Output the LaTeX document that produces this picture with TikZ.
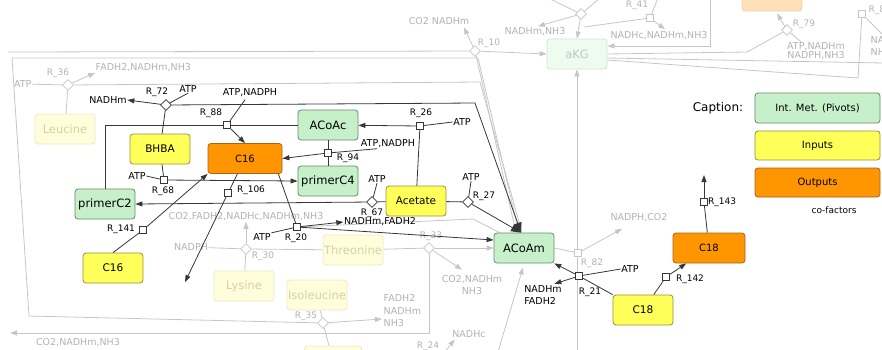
\documentclass[tikz,border=0pt]{standalone}
\usepackage{fontspec}
\setmainfont{DejaVu Sans}
\usetikzlibrary{arrows.meta,shapes.geometric,calc,backgrounds}

\definecolor{pivfill}{RGB}{198,240,202}
\definecolor{pivdraw}{RGB}{100,140,105}
\definecolor{infill}{RGB}{255,255,90}
\definecolor{indraw}{RGB}{150,145,60}
\definecolor{outfill}{RGB}{255,150,0}
\definecolor{outdraw}{RGB}{165,100,30}
\definecolor{darkline}{RGB}{55,55,55}
\definecolor{fadeline}{RGB}{198,198,198}
\definecolor{fadetext}{RGB}{178,178,178}
\definecolor{fadeinfill}{RGB}{255,253,218}
\definecolor{fadeindraw}{RGB}{236,234,198}
\definecolor{fadeintext}{RGB}{214,210,165}
\definecolor{fadepivfill}{RGB}{238,252,240}
\definecolor{fadepivdraw}{RGB}{208,228,212}
\definecolor{fadepivtext}{RGB}{185,205,190}
\definecolor{fadeoutfill}{RGB}{255,224,185}
\definecolor{fadeoutdraw}{RGB}{240,210,170}

\tikzset{
  met/.style={rounded corners=3pt, minimum width=60pt, minimum height=30pt, inner sep=1pt, line width=0.8pt},
  pivot/.style={met, draw=pivdraw, fill=pivfill, font=\fontsize{11.5}{12}\selectfont},
  inmet/.style={met, draw=indraw, fill=infill, font=\fontsize{10.5}{12}\selectfont},
  outmet/.style={met, draw=outdraw, fill=outfill, font=\fontsize{10}{12}\selectfont},
  fadein/.style={met, draw=fadeindraw, fill=fadeinfill, text=fadeintext, font=\fontsize{11.5}{12}\selectfont},
  fadepiv/.style={met, draw=fadepivdraw, fill=fadepivfill, text=fadepivtext, font=\fontsize{11.5}{12}\selectfont},
  fadeout/.style={met, draw=fadeoutdraw, fill=fadeoutfill},
  rsq/.style={draw=darkline, fill=white, line width=0.8pt, minimum size=7.5pt, inner sep=0pt},
  rdia/.style={diamond, draw=darkline, fill=white, line width=0.8pt, minimum size=11pt, inner sep=0pt},
  fsq/.style={rsq, draw=fadeline},
  fdia/.style={rdia, draw=fadeline},
  lbl/.style={font=\fontsize{9.5}{12}\selectfont, inner sep=0.5pt},
  rlab/.style={font=\fontsize{9}{10}\selectfont, inner sep=0.5pt},
  flbl/.style={lbl, text=fadetext},
  frlab/.style={rlab, text=fadetext},
  conn/.style={draw=darkline, line width=0.8pt},
  fconn/.style={draw=fadeline, line width=0.8pt},
  arr/.style={-{Triangle[length=7pt,width=5pt]}},
  bigarr/.style={-{Triangle[length=10pt,width=8pt]}}
}

\begin{document}
\begin{tikzpicture}[x=1pt,y=-1pt]
\useasboundingbox (0,0) rectangle (882,349);
\clip (0,0) rectangle (882,349);

\node[fadepiv] (akg) at (577,54) {aKG};
\node[fadeout] (topout) at (772,-4) {};
\node[fadein] (leucine) at (65,129) {Leucine};
\node[inmet] (bhba) at (160,149) {BHBA};
\node[outmet, minimum width=74pt] (c16o) at (245,158.5) {C16};
\node[pivot] (acoac) at (328,125) {ACoAc};
\node[pivot] (primc4) at (328,181) {primerC4};
\node[pivot] (primc2) at (105,204) {primerC2};
\node[inmet] (c16i) at (113,268) {C16};
\node[inmet] (acetate) at (416,201) {Acetate};
\node[pivot] (acoam) at (524,248) {ACoAm};
\node[fadein] (threonine) at (353,250) {Threonine};
\node[fadein] (isoleucine) at (317,295) {Isoleucine};
\node[fadein] (lysine) at (244,286) {Lysine};
\node[fadein, minimum width=57pt] (botin) at (333,361) {};
\node[inmet] (c18i) at (643,310) {C18};
\node[outmet, minimum width=72pt] (c18o) at (709,248) {C18};

\node[font=\fontsize{12}{14}\selectfont] (capt) at (718,108) {Caption:};
\node[pivot, minimum width=125pt, font=\fontsize{10}{12}\selectfont] (legpiv) at (817.5,108) {Int. Met. (Pivots)};
\node[inmet, minimum width=125pt, minimum height=29pt, font=\fontsize{10}{12}\selectfont] (legin) at (817.5,145.5) {Inputs};
\node[outmet, minimum width=125pt, minimum height=29pt] (legout) at (817.5,182.5) {Outputs};
\node[font=\fontsize{9}{11}\selectfont] (cofac) at (834,210) {co-factors};

\node[rdia] (R72) at (166,105) {};
\node[fdia] (R36) at (68,85) {};
\node[rsq] (R88) at (227,125) {};
\node[rsq] (R26) at (420,126) {};
\node[rsq] (R94) at (328,153) {};
\node[rsq] (R68) at (164,180) {};
\node[rsq] (R106) at (228,193) {};
\node[rsq] (R141) at (143,230) {};
\node[rsq] (R20) at (297,227) {};
\node[rdia] (R67) at (372,202) {};
\node[rdia] (R27) at (468,202) {};
\node[fdia] (R30) at (246,249) {};
\node[fdia] (R33) at (429,248) {};
\node[fdia] (R35) at (323,323) {};
\node[fdia] (R10) at (475,51) {};
\node[fdia] (Rtop) at (581,14) {};
\node[fsq] (R41) at (650,18) {};
\node[fdia] (R79) at (787,30) {};
\node[fsq] (R80) at (862,14) {};
\node[fsq] (R82) at (578,253) {};
\node[rsq] (R21) at (579,276) {};
\node[rsq] (R142) at (666,277) {};
\node[rsq] (R143) at (704,202) {};

\node[rlab] (l72) at (157,92) {R\_72};
\node[frlab] (l36) at (58,73) {R\_36};
\node[rlab] (l88) at (211,113) {R\_88};
\node[rlab] (l26) at (421,113) {R\_26};
\node[rlab] (l94) at (348,158) {R\_94};
\node[rlab] (l68) at (163,191) {R\_68};
\node[rlab] (l106) at (251,190) {R\_106};
\node[rlab] (l141) at (121,229) {R\_141};
\node[rlab] (l20) at (296,238) {R\_20};
\node[rlab] (l67) at (372,213) {R\_67};
\node[rlab] (l27) at (484,196) {R\_27};
\node[frlab] (l30) at (263,256) {R\_30};
\node[frlab] (l33) at (431,236) {R\_33};
\node[frlab] (l35) at (306,316) {R\_35};
\node[frlab] (l10) at (489,43) {R\_10};
\node[frlab] (l41) at (637,5) {R\_41};
\node[frlab] (l79) at (804,24) {R\_79};
\node[frlab, anchor=west] (l80) at (868,10) {R\_80};
\node[frlab] (l82) at (592,263) {R\_82};
\node[rlab] (l21) at (590,292) {R\_21};
\node[rlab] (l142) at (690,279) {R\_142};
\node[rlab] (l143) at (722,202) {R\_143};
\node[frlab] (l24) at (428,346) {R\_24};

\node[lbl] (nadh72) at (108,100) {NADHm};
\node[lbl] (atp72) at (188,89) {ATP};
\node[lbl] (atpn88) at (250,93) {ATP,NADPH};
\node[lbl] (atp26) at (462,122) {ATP};
\node[lbl] (atpn94) at (388,144) {ATP,NADPH};
\node[lbl] (atp68) at (137,176) {ATP};
\node[lbl] (atp67) at (377,179) {ATP};
\node[lbl] (atp27) at (471,177) {ATP};
\node[lbl] (nf20) at (380,222) {NADHm,FADH2};
\node[lbl] (atp20) at (262,237) {ATP};
\node[lbl] (atp21) at (630,269) {ATP};
\node[lbl, align=left] (nf21) at (543,295) {NADHm\\FADH2};

\node[flbl, anchor=east] (fatp36) at (32,84) {ATP};
\node[flbl, anchor=west] (ffn36) at (95,68) {FADH2,NADHm,NH3};
\node[flbl] (fcn10) at (439,21) {CO2 NADHm};
\node[flbl] (fnn) at (535,32) {NADHm,NH3};
\node[flbl] (fnnn41) at (659,36) {NADHc,NADHm,NH3};
\node[flbl, align=center, font=\fontsize{9.5}{9}\selectfont] (fan79) at (816,51) {ATP,NADHm\\NADPH,NH3};
\node[flbl, anchor=west, align=left] (fna80) at (870,46) {NADHm\\NH3};
\node[flbl] (fcf30) at (246,217) {CO2,FADH2,NADHc,NADHm,NH3};
\node[flbl] (fnadph30) at (191,247) {NADPH};
\node[flbl, align=center] (fcn33) at (472,285) {CO2,NADHm\\NH3};
\node[flbl, anchor=west, align=left, font=\fontsize{9.5}{12.5}\selectfont] (ffnn35) at (383,311) {FADH2\\NADHm\\NH3};
\node[flbl] (fcnn) at (78,343) {CO2,NADHm,NH3};
\node[flbl] (fnadhc) at (469,334) {NADHc};
\node[flbl] (fnc82) at (639,218) {NADPH,CO2};

\coordinate (k72) at (475,103);
\coordinate (g52) at (8,52);
\coordinate (g58) at (12,58);
\coordinate (g58r) at (478,58);
\coordinate (g82r) at (480,82);
\coordinate (gbl) at (29,316);
\coordinate (gbot) at (10,333);
\coordinate (e106) at (185,282);
\coordinate (e143) at (704,175);
\coordinate (g219) at (473,219);
\coordinate (gakgb) at (577,352);
\coordinate (g24a) at (498,352);
\coordinate (g24b) at (445,352);
\coordinate (gtl) at (548,-2);
\coordinate (gtr) at (600,-2);
\coordinate (g41a) at (584,27);
\coordinate (g41b) at (658,-2);
\coordinate (g710) at (710,-2);
\coordinate (g747) at (747,52);
\coordinate (g882) at (884,63);
\coordinate (g858) at (858,78);
\coordinate (g80r) at (884,36);

\begin{scope}[on background layer]
\clip (0,0) rectangle (882,349);
\draw[fconn] (g52) -- (R10);
\draw[fconn] (g58) -- (g58r) -- ($(acoam.north)+(-5,0)$);
\draw[fconn] (R10) -- ($(acoam.north)+(-8,0)$);
\draw[fconn] (R36) -- (g82r) -- ($(acoam.north)+(-2,0)$);
\draw[fconn] (g58) -- (gbl) -- (R35);
\draw[fconn] (fatp36) -- (R36);
\draw[fconn, arr] (R36) -- (ffn36.south west);
\draw[fconn] (R36) -- (leucine);
\draw[fconn, arr] (R10) -- ($(fcn10.south east)+(-6,2)$);
\draw[fconn, arr] (R10) -- (akg.west);
\draw[fconn, arr] (Rtop) -- (akg.north);
\draw[fconn, arr] (Rtop) -- ($(fnn.north)+(3,-1)$);
\draw[fconn] (Rtop) -- (gtl);
\draw[fconn] (Rtop) -- (gtr);
\draw[fconn, arr] (R41) -- ($(fnnn41.north)+(6,-2)$);
\draw[fconn] (R41) -- (g41a);
\draw[fconn] (R41) -- (g41b);
\draw[fconn, arr] (g710) |- ($(akg.east)+(0,-8)$);
\draw[fconn] (akg.east) -- (g747) -- (R79);
\draw[fconn, arr] (R79) -- ($(topout.south)+(5,2)$);
\draw[fconn] (R79) -- ($(fan79.north)+(-15,0)$);
\draw[fconn] ($(akg.east)+(0,4)$) -- (g882);
\draw[fconn] ($(akg.east)+(0,6)$) -- (g858) -- (R80);
\draw[fconn] (R80) -- (g80r);
\draw[fconn, arr] (gakgb) -- (akg.south);
\draw[fconn] (acoam.east) -- (R82);
\draw[fconn, arr] (R82) -- ($(fnc82.south)+(-17,6)$);
\draw[fconn] (fnadph30) -- (R30);
\draw[fconn, arr] (R30) -- (fcf30.south);
\draw[fconn] (lysine) -- (R30);
\draw[fconn] (R30) -- (threonine);
\draw[fconn] (threonine) -- (R33);
\draw[fconn, arr] (R33) -- (acoam.west);
\draw[fconn, arr] (R33) -- ($(fcn33.north)+(-10,-5)$);
\draw[fconn, arr] (R33) |- (gbot);
\draw[fconn] (isoleucine) -- (R35);
\draw[fconn, arr] (R35) -- ($(ffnn35.west)+(-1,8)$);
\draw[fconn] (R35) -- (botin);
\draw[fconn] (R20) -- (g219) -- ($(acoam.north west)+(6,0)$);
\draw[fconn, arr] (g24a) -- ($(acoam.south)+(-1,4)$);
\draw[fconn, arr] (g24b) -- ($(fnadhc.south west)+(3,1)$);
\end{scope}

\draw[conn] (bhba) -- (R72);
\draw[conn, arr] (R72) -- (nadh72.east);
\draw[conn] (R72) -- (atp72.south);
\draw[conn, bigarr] (R72) -- (k72) -- ($(acoam.north)+(-3,0)$);
\draw[conn] (primc2) |- (R88);
\draw[conn] (R88) -- (acoac);
\draw[conn, arr] (R88) -- (c16o.north);
\draw[conn] (R88) -- ($(atpn88.south)+(-5,2)$);
\draw[conn, arr] (R26) -- (acoac);
\draw[conn] (R26) -- (atp26.west);
\draw[conn] (R26) -- (acetate);
\draw[conn] (acoac) -- (R94) -- (primc4);
\draw[conn, arr] (R94) -- (c16o.east);
\draw[conn] (R94) -- ($(atpn94.south)+(-11,0)$);
\draw[conn] (bhba) -- (R68);
\draw[conn] (atp68.east) -- (R68);
\draw[conn, arr] (R68) -- (primc4.west);
\draw[conn] (c16o) -- (R106);
\draw[conn, arr] (R106) -- (e106);
\draw[conn] (c16i.north) -- (R141);
\draw[conn, arr] (R141) -- (c16o.south west);
\draw[conn] ($(c16o.south east)+(-4,0)$) -- (R20);
\draw[conn, arr] (R20) -- (nf20.west);
\draw[conn, arr] (R20) -- ($(acoam.west)+(0,-8)$);
\draw[conn] (atp20.north east) -- (R20);
\draw[conn] (acetate) -- (R67);
\draw[conn, arr] (R67) -- (primc2.east);
\draw[conn] (R67) -- (atp67.south);
\draw[conn] (acetate) -- (R27);
\draw[conn, bigarr] (R27) -- ($(acoam.north)+(-3,0)$);
\draw[conn] (R27) -- (atp27.south);
\draw[conn] (c18i.north west) -- (R21);
\draw[conn, arr] (R21) -- (acoam);
\draw[conn, arr] (R21) -- ($(nf21.north east)+(-8,-1)$);
\draw[conn] (R21) -- (atp21.west);
\draw[conn] (c18i) -- (R142);
\draw[conn, arr] (R142) -- (c18o);
\draw[conn] (c18o) -- (R143);
\draw[conn, arr] (R143) -- (e143);
\end{tikzpicture}
\end{document}
